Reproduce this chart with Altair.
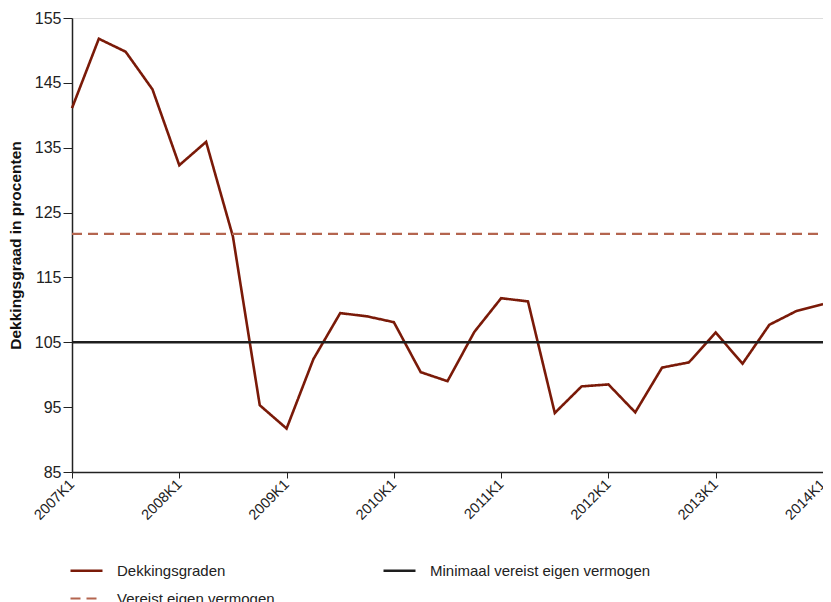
import altair as alt
import pandas as pd

quarters = [f"{y}K{q}" for y in range(2007, 2014) for q in range(1, 5)] + ["2014K1"]
dekkingsgraad = [141.1, 151.8, 149.8, 144.0, 132.3, 135.9, 121.3, 95.3, 91.7, 102.4,
                 109.5, 109.0, 108.1, 100.4, 99.0, 106.6, 111.8, 111.3, 94.1, 98.2,
                 98.5, 94.2, 101.1, 101.9, 106.5, 101.7, 107.7, 109.8, 110.9]
vereist = 121.7
minimaal = 105.0
series = ["Dekkingsgraden", "Minimaal vereist eigen vermogen", "Vereist eigen vermogen"]
tick_labels = [f"{y}K1" for y in range(2007, 2015)]
y_ticks = [85, 95, 105, 115, 125, 135, 145, 155]

rows = []
for q, v in zip(quarters, dekkingsgraad):
    rows.append({"kwartaal": q, "waarde": v, "serie": series[0]})
for q in [quarters[0], quarters[-1]]:
    rows.append({"kwartaal": q, "waarde": minimaal, "serie": series[1]})
    rows.append({"kwartaal": q, "waarde": vereist, "serie": series[2]})
df = pd.DataFrame(rows)

FONT = "Liberation Sans"

chart = alt.Chart(df).mark_line(clip=False).encode(
    x=alt.X("kwartaal:O", sort=quarters,
            scale=alt.Scale(type="point", padding=0, domain=quarters),
            axis=alt.Axis(values=tick_labels, title=None, labelAngle=-45,
                          labelAlign="right", labelBaseline="middle",
                          labelFontSize=14.5, labelFont=FONT, labelColor="#222",
                          tickSize=6, tickColor="#222", domainColor="#222",
                          domainWidth=1.5, labelPadding=4, grid=False)),
    y=alt.Y("waarde:Q",
            scale=alt.Scale(domain=[85, 155], nice=False, zero=False),
            axis=alt.Axis(values=y_ticks, title="Dekkingsgraad in procenten",
                          titleFont=FONT, titleFontSize=15.5, titleFontWeight="bold",
                          titleColor="#111", titlePadding=11,
                          labelFontSize=16, labelFont=FONT, labelColor="#222",
                          tickSize=9, tickColor="#222", domainColor="#222",
                          domainWidth=1.5, labelPadding=2, grid=False)),
    color=alt.Color("serie:N", sort=series,
                    scale=alt.Scale(domain=series, range=["#7A1A08", "#1E1E1E", "#B4654F"]),
                    legend=alt.Legend(title=None, orient="none", legendX=5, legendY=543,
                                      columns=2, columnPadding=103, rowPadding=10,
                                      symbolType="M-2,0H2", symbolSize=256,
                                      labelFont=FONT, labelFontSize=15, labelColor="#222",
                                      labelOffset=21, labelLimit=400, direction="horizontal")),
    strokeDash=alt.StrokeDash("serie:N", sort=series,
                              scale=alt.Scale(domain=series, range=[[1, 0], [1, 0], [10, 6]])),
    strokeWidth=alt.StrokeWidth("serie:N", sort=series,
                                scale=alt.Scale(domain=series, range=[2.6, 2.2, 2.6])),
    order=alt.Order("serie:N"),
).properties(
    width=751, height=454,
    padding={"left": 64, "top": 10, "right": 0, "bottom": 150},
    autosize=alt.AutoSizeParams(type="none"),
).configure_view(
    fill="#E8CCC0", stroke=None
).configure(background="white")

chart.save("out.html", embed_options={"renderer": "svg", "actions": False})
